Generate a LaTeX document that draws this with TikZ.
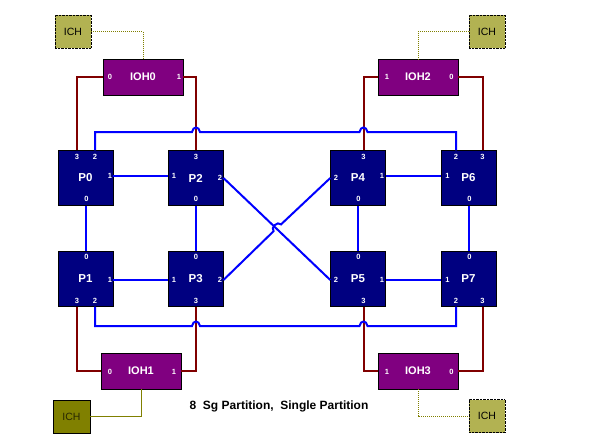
\documentclass[tikz,border=0pt]{standalone}
\usepackage{fontspec}
\setmainfont{Liberation Sans}
\usetikzlibrary{positioning}
\definecolor{cpu}{RGB}{0,0,128}
\definecolor{iohc}{RGB}{128,0,128}
\definecolor{linkc}{RGB}{128,0,0}
\definecolor{busc}{RGB}{0,0,255}
\definecolor{olivec}{RGB}{128,128,0}
\definecolor{ichfill}{RGB}{178,178,82}
\begin{document}
\begin{tikzpicture}[x=1pt,y=-1pt,
  proc/.style={draw=black,fill=cpu,text=white,font=\bfseries\fontsize{11.5}{12}\selectfont,minimum width=55pt,minimum height=55pt,inner sep=0pt},
  ioh/.style={draw=black,fill=iohc,text=white,font=\bfseries\fontsize{11}{12}\selectfont,minimum width=80pt,minimum height=36pt,inner sep=0pt},
  ich/.style={draw=black,densely dotted,fill=ichfill,font=\fontsize{10.5}{12}\selectfont,minimum width=36pt,minimum height=33pt,inner sep=0pt},
  ichsolid/.style={draw=black,fill=olivec,text=olivec!30!black,font=\fontsize{10.5}{12}\selectfont,minimum width=37pt,minimum height=33pt,inner sep=0pt},
  port/.style={text=white,font=\bfseries\fontsize{7.5}{8}\selectfont,inner sep=0pt},
  bus/.style={draw=busc,line width=2pt},
  iolink/.style={draw=linkc,line width=2pt},
  chlink/.style={draw=olivec,line width=1pt}]
  \useasboundingbox (0,0) rectangle (596,444);
  % processors
  \node[proc] (P0) at (85.5,178) {P0};
  \node[proc] (P2) at (195.75,178) {P2};
  \node[proc] (P4) at (358,178) {P4};
  \node[proc] (P6) at (468.5,178) {P6};
  \node[proc] (P1) at (85.5,279) {P1};
  \node[proc] (P3) at (195.75,279) {P3};
  \node[proc] (P5) at (358,279) {P5};
  \node[proc] (P7) at (468.5,279) {P7};
  % io hubs
  \node[ioh] (IOH0) at (143,77) {IOH0};
  \node[ioh] (IOH2) at (418,77) {IOH2};
  \node[ioh] (IOH1) at (141,371) {IOH1};
  \node[ioh] (IOH3) at (418,371) {IOH3};
  % channels
  \node[ich] (ICH0) at (73,31.5) {ICH};
  \node[ich] (ICH2) at (487,31.5) {ICH};
  \node[ichsolid] (ICH1) at (71.5,416.5) {ICH};
  \node[ich] (ICH3) at (487,416) {ICH};
  % processor ports
  \node[port] (P0l3) at (77,157) {3};
  \node[port] (P0l2) at (95,157) {2};
  \node[port] (P0l1) at (110,176) {1};
  \node[port] (P0l0) at (86.5,199) {0};
  \node[port] (P2l3) at (196,157) {3};
  \node[port] (P2l1) at (174,176) {1};
  \node[port] (P2l2) at (220,178) {2};
  \node[port] (P2l0) at (196,199) {0};
  \node[port] (P4l3) at (363.5,157) {3};
  \node[port] (P4l2) at (336,178) {2};
  \node[port] (P4l1) at (382,176) {1};
  \node[port] (P4l0) at (358.5,199) {0};
  \node[port] (P6l2) at (456,157) {2};
  \node[port] (P6l3) at (482.5,157) {3};
  \node[port] (P6l1) at (447.5,176) {1};
  \node[port] (P6l0) at (469.5,199) {0};
  \node[port] (P1l0) at (86.5,257) {0};
  \node[port] (P1l1) at (110,280) {1};
  \node[port] (P1l3) at (77,301) {3};
  \node[port] (P1l2) at (95,301) {2};
  \node[port] (P3l0) at (196,257) {0};
  \node[port] (P3l1) at (174,280) {1};
  \node[port] (P3l2) at (220,280) {2};
  \node[port] (P3l3) at (196,301) {3};
  \node[port] (P5l0) at (358.5,257) {0};
  \node[port] (P5l2) at (336,280) {2};
  \node[port] (P5l1) at (382,280) {1};
  \node[port] (P5l3) at (363.5,301) {3};
  \node[port] (P7l0) at (469.5,257) {0};
  \node[port] (P7l1) at (447.5,280) {1};
  \node[port] (P7l2) at (456,301) {2};
  \node[port] (P7l3) at (482.5,301) {3};
  % hub ports
  \node[port] (IOH0l0) at (110,77) {0};
  \node[port] (IOH0l1) at (179,77) {1};
  \node[port] (IOH2l1) at (387,77) {1};
  \node[port] (IOH2l0) at (451.5,77) {0};
  \node[port] (IOH1l0) at (110,372) {0};
  \node[port] (IOH1l1) at (174,372) {1};
  \node[port] (IOH3l1) at (387,372) {1};
  \node[port] (IOH3l0) at (451.5,372) {0};
  % hub links
  \draw[iolink] (IOH0.west) -| (P0.north -| P0l3);
  \draw[iolink] (IOH0.east) -| (P2.north);
  \draw[iolink] (IOH2.west) -| (P4.north -| P4l3);
  \draw[iolink] (IOH2.east) -| (P6.north -| P6l3);
  \draw[iolink] (IOH1.west) -| (P1.south -| P1l3);
  \draw[iolink] (IOH1.east) -| (P3.south);
  \draw[iolink] (IOH3.west) -| (P5.south -| P5l3);
  \draw[iolink] (IOH3.east) -| (P7.south -| P7l3);
  % channel links
  \draw[chlink,densely dotted] (ICH0.east) -| (IOH0.north);
  \draw[chlink,densely dotted] (ICH2.west) -| (IOH2.north);
  \draw[chlink] (IOH1.south) |- (ICH1.east);
  \draw[chlink,densely dotted] (IOH3.south) |- (ICH3.west);
  % processor links
  \draw[bus] (P0.east |- P0l1) -- (P2.west |- P2l1);
  \draw[bus] (P4.east |- P4l1) -- (P6.west |- P6l1);
  \draw[bus] (P1.east |- P1l1) -- (P3.west |- P3l1);
  \draw[bus] (P5.east |- P5l1) -- (P7.west |- P7l1);
  \draw[bus] (P0.south) -- (P1.north);
  \draw[bus] (P2.south) -- (P3.north);
  \draw[bus] (P4.south) -- (P5.north);
  \draw[bus] (P6.south) -- (P7.north);
  \draw[bus] (P0.north -| P0l2) |- (192,132) .. controls (193,126) and (199,126) .. (200,132)
    -- (359.5,132) .. controls (360.5,126) and (366.5,126) .. (367.5,132) -| (P6.north -| P6l2);
  \draw[bus] (P1.south -| P1l2) |- (192,326) .. controls (193,320) and (199,320) .. (200,326)
    -- (359.5,326) .. controls (360.5,320) and (366.5,320) .. (367.5,326) -| (P7.south -| P7l2);
  \draw[bus] (P2.east |- P2l2) -- (P5.west |- P5l2);
  \draw[bus] (P3.east |- P3l2) -- (273.6,231.2) .. controls (270.2,227.5) and (277.6,220.7) .. (281,224.4)
    -- (P4.west |- P4l2);
  % caption
  \node[font=\bfseries\fontsize{12}{14}\selectfont] (title) at (279,406) {8\ \ Sg Partition,\ \ Single Partition};
\end{tikzpicture}
\end{document}
